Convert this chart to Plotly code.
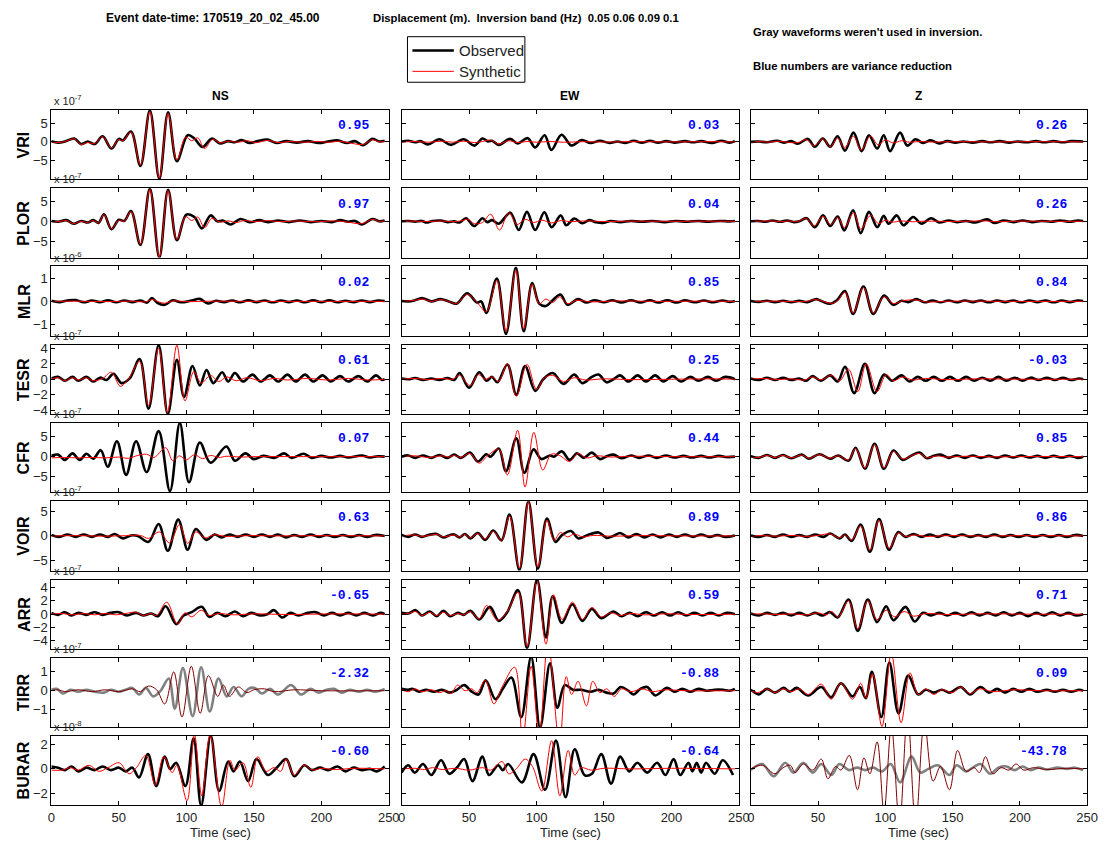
import plotly.graph_objects as go

# ---------------- data (values in units of the panel exponent) ----------------
STATIONS = ["VRI", "PLOR", "MLR", "TESR", "CFR", "VOIR", "ARR", "TIRR", "BURAR"]
COMPONENTS = ["NS", "EW", "Z"]
EXPONENTS = [-7, -7, -6, -7, -7, -7, -7, -7, -8]
Y_RANGES = [(-10.1, 8.6), (-9.2, 8.4), (-1.5, 1.52), (-4.5, 4.45), (-8.8, 8.3),
            (-7.0, 7.0), (-5.2, 5.2), (-1.93, 1.75), (-2.97, 2.68)]
Y_TICKS = [[-5, 0, 5], [-5, 0, 5], [-1, 0, 1], [-4, -2, 0, 2, 4], [-5, 0, 5],
           [-5, 0, 5], [-4, -2, 0, 2, 4], [-1, 0, 1], [-2, 0, 2]]
X_TICKS = [0, 50, 100, 150, 200, 250]
VR_NS = [0.95, 0.97, 0.02, 0.61, 0.07, 0.63, -0.65, -2.32, -0.60]
VR_EW = [0.03, 0.04, 0.85, 0.25, 0.44, 0.89, 0.59, -0.88, -0.64]
VR_Z = [0.26, 0.26, 0.84, -0.03, 0.85, 0.86, 0.71, 0.09, -43.78]
UNUSED = [("TIRR", "NS"), ("BURAR", "Z")]
LEGEND_LABELS = ["Observed", "Synthetic"]

VRI_NS_OBS = [(0,0.2),(5,-0.2),(10,0.1),(17,0.9),(22,-0.6),(27,0.1),(32,-0.6),(38,1.5),(44.5,-1.8),(50,0.8),(53,0.4),(59,2.8),(66,-6.5),(73,8.5),(80,-10.0),(86.5,8.0),(93,-5.2),(101,1.8),(106,0.9),(112,-1.4),(119,0.9),(125,-0.4),(131,0.2),(136,-0.1),(141,0.5),(147,-0.3),(153,0.2),(160,0.6),(167,-0.3),(174,0.2),(182,-0.2),(190,0.2),(198,-0.3),(205,0.1),(212,0.4),(219,-0.3),(225,0.2),(231,-0.9),(238,0.8),(243,0.1),(247,0.3)]
VRI_NS_SYN = [(0,0.1),(5,-0.2),(10,0.1),(17,0.8),(22,-0.7),(27,-0.2),(32,-0.5),(38,1.4),(44.5,-1.6),(50,0.6),(53,0.3),(59,2.6),(66,-6.2),(73,8.2),(80,-9.7),(86.5,7.7),(93,-4.9),(99.5,1.3),(104,0.3),(108.5,1.1),(113.5,-1.8),(119.5,0.7),(125,-0.3),(131,0.2),(138,-0.1),(145,0.3),(152,-0.2),(160,0.4),(168,-0.2),(177,0.1),(187,-0.1),(197,0.1),(207,-0.1),(213,0.2),(220,-0.2),(231,-0.7),(238,0.6),(243,0.0),(247,0.1)]
VRI_EW_OBS = [(0,0.1),(5,0.3),(10,-0.1),(14,0.2),(19.5,-0.7),(28,0.7),(36.5,-0.8),(46,0.7),(54,-1.0),(60,0.9),(64,0.1),(67,0.3),(72,-0.8),(80.5,0.8),(86,-0.4),(93.5,1.0),(99,-1.5),(106,1.8),(111,-2.2),(118.5,1.9),(126,-1.0),(133.5,0.5),(140,-0.3),(147,0.3),(154,-0.3),(160,0.1),(166,-0.3),(172,0.3),(178,-0.2),(184,0.3),(190,-0.2),(196,0.2),(202,-0.2),(210,0.2),(216,-0.1),(222,0.2),(230,-0.3),(237,0.3),(243,-0.2),(247,0.2)]
VRI_EW_SYN = [(0,0.0),(10,0.1),(20,-0.1),(30,0.2),(38,-0.1),(46,0.2),(54,-0.2),(60,0.1),(66,0.5),(72,-0.6),(79,0.3),(86,-0.2),(93,0.1),(100,-0.1),(110,0.1),(120,-0.1),(135,0.05),(150,-0.05),(170,0.05),(200,0.0),(230,0.05),(247,0.0)]
VRI_Z_OBS = [(0,0.0),(6,0.1),(12,-0.1),(19.5,0.3),(25,-0.2),(30,0.2),(35,-0.5),(42.5,0.8),(47.5,-1.3),(53.5,0.9),(59,-1.3),(64.5,1.5),(70,-2.4),(76.3,2.5),(82.4,-2.5),(87.8,1.8),(94,-1.8),(98.8,1.8),(103.5,-2.5),(110.9,2.5),(116.3,-1.0),(122.4,0.7),(128,-0.3),(133.7,0.4),(140,-0.4),(146,0.2),(152,-0.2),(158,0.1),(165,-0.2),(172,0.2),(178,-0.1),(185,0.2),(192,-0.2),(198,0.1),(205,-0.1),(212,0.2),(218,-0.1),(225,0.2),(232,-0.1),(238,0.2),(247,0.1)]
VRI_Z_SYN = [(0,0.0),(8,0.05),(15,-0.05),(20,0.2),(27,-0.1),(35,-0.2),(41.5,0.6),(47,-1.1),(53.7,0.8),(59,-1.3),(64.6,1.0),(69.5,-1.6),(76.3,1.5),(82,-2.2),(89,1.6),(94.6,-0.8),(100,0.5),(106,-0.3),(112,0.3),(118,-0.1),(125,0.1),(135,-0.05),(150,0.05),(180,0.0),(210,0.05),(247,0.0)]

PLOR_NS_OBS = [(0,0.1),(5,-0.1),(11,0.3),(16.5,-0.6),(22,0.1),(27,-0.3),(31,0.3),(35,-0.4),(39,1.8),(44.5,-2.0),(50,0.4),(54,0.1),(59,2.6),(66,-6.0),(73,8.3),(80,-9.2),(86.5,8.0),(93,-4.8),(100,1.7),(106,1.1),(111.5,-1.8),(118,1.5),(123,0.0),(127,0.2),(133,-0.8),(140,0.6),(147,-0.2),(154,0.3),(161,-0.2),(168,0.2),(176,-0.2),(184,0.2),(192,-0.2),(200,0.1),(208,-0.2),(214,0.3),(220,-0.1),(225,0.1),(230,-0.8),(238,0.6),(243,0.0),(247,0.2)]
PLOR_NS_SYN = [(0,0.0),(5,-0.1),(11,0.2),(16.5,-0.6),(22,0.0),(27,-0.3),(31,0.2),(35,-0.4),(39,1.7),(44.5,-1.9),(50,0.3),(54,0.0),(59,2.5),(66,-5.8),(73,8.1),(80,-9.0),(86.5,7.8),(93,-4.6),(99.5,1.2),(104,0.2),(108.5,1.1),(113.5,-1.6),(119,0.8),(125,-0.2),(131,0.1),(137,-0.3),(143,0.2),(150,-0.1),(160,0.2),(170,-0.1),(180,0.1),(195,-0.1),(210,0.1),(218,-0.1),(230,-0.6),(238,0.5),(243,0.0),(247,0.1)]
PLOR_EW_OBS = [(0,0.0),(5,0.1),(10,-0.1),(15,0.1),(18.5,-0.3),(23,0.1),(29,0.2),(34,-0.2),(39,0.0),(43,-0.3),(47.7,0.8),(53.8,-1.2),(60,0.8),(63.5,-0.2),(67,0.3),(72,-0.6),(80.6,2.2),(86.8,-2.2),(92.9,2.4),(99,-2.2),(105.8,2.3),(111.2,-1.5),(118,1.5),(122,-1.0),(128,0.7),(134,-0.5),(139,0.3),(144,-0.2),(149,-0.4),(155,0.1),(162,-0.2),(170,0.1),(178,-0.1),(186,0.1),(195,-0.2),(203,0.1),(212,-0.1),(220,0.1),(228,-0.1),(236,0.1),(243,0.0),(247,0.1)]
PLOR_EW_SYN = [(0,0.0),(10,0.05),(20,-0.05),(30,0.1),(38,-0.1),(44,0.1),(49,0.5),(54,-0.6),(60,-0.3),(66,1.8),(72.6,-2.2),(79.4,2.2),(85.5,-0.8),(91.6,0.5),(97.8,-0.3),(104,0.3),(111,-0.4),(118.5,0.2),(125,-0.1),(135,0.1),(150,-0.05),(170,0.05),(200,0.0),(230,0.05),(247,0.0)]
PLOR_Z_OBS = [(0,0.0),(5,0.1),(10,-0.1),(16,0.2),(22,-0.1),(27,0.2),(32,-0.2),(36,0.0),(41.5,0.8),(47.6,-1.5),(53.7,1.5),(59,-1.2),(64.6,1.2),(69.5,-2.3),(76,2.8),(81.7,-3.0),(87.8,2.4),(94,-1.5),(98.8,1.4),(102.4,-0.6),(108.5,1.5),(113.4,-1.0),(120.7,1.1),(126.8,-0.6),(134,0.8),(140,-0.3),(147,0.2),(153,-0.2),(160,0.1),(167,-0.3),(175.6,0.5),(181,-0.4),(188,0.2),(195,-0.2),(202,0.2),(209,-0.2),(216,0.1),(223,-0.1),(230,0.2),(237,-0.1),(243,0.2),(247,0.1)]
PLOR_Z_SYN = [(0,0.0),(8,0.05),(16,0.1),(22,-0.1),(28,0.1),(34,-0.1),(41.5,0.7),(47,-1.2),(53.7,1.3),(59.5,-0.8),(64.6,1.0),(69.5,-1.6),(76.5,2.2),(81.7,-2.0),(89,1.5),(95,-0.6),(100,0.3),(105,-0.2),(112,0.1),(120,-0.1),(130,0.05),(150,-0.05),(175,0.1),(181,-0.1),(200,0.05),(225,0.0),(247,0.0)]

MLR_NS_OBS = [(0,0.03),(6,-0.03),(12,0.04),(18,0.06),(24,-0.04),(30,0.04),(36,-0.03),(42,0.05),(48,-0.04),(54,0.04),(60,-0.03),(66,0.04),(71,-0.05),(74.5,0.15),(78.5,-0.06),(84,-0.15),(90,0.05),(96,-0.04),(104,0.04),(110,0.11),(116,-0.09),(122,0.03),(128,-0.03),(134,0.04),(140,-0.04),(146,0.05),(152,-0.03),(158,0.04),(164,-0.04),(170,0.04),(176,-0.03),(182,0.04),(188,-0.04),(194,0.05),(200,-0.03),(206,0.05),(212,-0.04),(218,0.03),(224,-0.03),(230,0.04),(236,-0.03),(242,0.04),(247,0.02)]
MLR_NS_SYN = [(0,0.0),(20,0.01),(40,-0.01),(60,0.01),(70,-0.02),(75,0.08),(80,-0.03),(84,-0.08),(90,0.02),(100,-0.01),(120,0.01),(150,0.0),(200,0.0),(247,0.0)]
MLR_EW_OBS = [(0,0.02),(5,0.0),(10,0.05),(15.7,0.14),(22,0.0),(28.8,0.1),(35,0.0),(40.8,-0.1),(48.6,0.35),(56,-0.05),(59,0.0),(62.8,-0.5),(70.6,1.0),(77.4,-1.42),(84.7,1.47),(90.5,-1.3),(96.8,0.8),(102,-0.1),(107,-0.2),(112,0.05),(117.7,0.3),(123,-0.15),(130.8,0.1),(137,-0.05),(143,0.05),(150,-0.04),(156,0.05),(163,-0.05),(170,0.05),(177,-0.05),(184,0.05),(190,-0.05),(197,0.05),(204,-0.05),(210,0.05),(217,-0.04),(224,0.04),(231,-0.04),(238,0.04),(243,-0.02),(247,0.02)]
MLR_EW_SYN = [(0,0.0),(10,0.05),(15.7,0.1),(22,0.0),(28.8,0.08),(35,0.0),(40.8,-0.1),(48.6,0.3),(56,-0.05),(62.8,-0.45),(70.6,0.9),(77.4,-1.3),(84.7,1.35),(90.5,-1.2),(96.8,0.75),(102,-0.1),(107,0.1),(112,-0.05),(117,0.2),(123,-0.1),(130,0.05),(140,-0.02),(160,0.02),(190,0.0),(220,0.01),(247,0.0)]
MLR_Z_OBS = [(0,0.02),(6,-0.02),(12,0.03),(18,-0.03),(24,0.03),(30,-0.03),(36,0.03),(42,-0.03),(48.7,0.1),(53,0.0),(59,-0.1),(64,0.05),(70,0.45),(76,-0.55),(83.7,0.65),(91,-0.55),(99,0.25),(106,-0.15),(112,0.03),(117,-0.03),(123,0.1),(129,-0.04),(135,0.04),(141,-0.04),(147,0.04),(153,-0.04),(159,0.04),(165,-0.03),(171,0.04),(177,-0.04),(183,0.04),(189,-0.03),(195,0.04),(201,-0.04),(207,0.04),(213,-0.03),(219,0.04),(225,-0.04),(231,0.04),(237,-0.03),(243,0.04),(247,0.02)]
MLR_Z_SYN = [(0,0.0),(20,0.01),(40,-0.01),(48.7,0.08),(59,-0.08),(64,0.0),(70,0.4),(76,-0.5),(83.7,0.6),(91,-0.5),(99,0.2),(106,-0.1),(113,0.03),(123,0.06),(130,-0.02),(150,0.01),(200,0.0),(247,0.0)]

TESR_NS_OBS = [(0,0.1),(5,0.3),(10,-0.2),(15.7,0.3),(20,-0.2),(26,0.3),(31,-0.3),(36,0.2),(41,-0.1),(46,0.7),(52,-0.5),(58,0.1),(65.4,2.6),(72,-3.8),(79.5,4.4),(86.3,-4.5),(93,2.5),(98.3,-2.3),(104.6,1.7),(110,-0.8),(115,1.2),(120,-0.5),(126.6,0.9),(131,-0.3),(136,0.8),(142,-0.3),(149,0.6),(155,-0.3),(162,0.5),(168,-0.3),(175,0.6),(181,-0.3),(188,0.6),(194,-0.3),(201,0.5),(207,-0.3),(214,0.4),(220,-0.3),(227.5,0.4),(234,-0.3),(240.6,0.5),(245,-0.1),(247,0.0)]
TESR_NS_SYN = [(0,0.0),(5,0.2),(10,-0.2),(15.7,0.2),(20,-0.1),(26,0.2),(31,-0.2),(38,0.1),(44.5,0.9),(51,-0.9),(57,0.0),(65.4,2.3),(72,-3.4),(79.5,4.0),(86,-4.3),(93,4.4),(99,-2.8),(105.6,1.0),(111,-0.5),(118,0.5),(124,-0.3),(130,0.3),(137,-0.2),(145,0.2),(155,-0.2),(165,0.1),(175,-0.1),(190,0.1),(205,-0.1),(220,0.1),(235,-0.1),(247,0.0)]
TESR_EW_OBS = [(0,0.1),(5,0.0),(10,0.15),(16,-0.1),(22,0.1),(28,-0.1),(34,0.15),(39,-0.1),(43,0.8),(50,-1.1),(57.5,0.9),(63,-0.2),(67,0.3),(71,-0.4),(78.4,1.9),(85,-2.0),(91.5,1.7),(99,-1.5),(105,0.0),(112,0.8),(120,-0.6),(128,0.6),(134,-0.5),(141,0.3),(146,0.6),(152,-0.4),(157,0.0),(162,0.5),(168,-0.3),(175,0.5),(181,-0.3),(188,0.5),(194,-0.3),(201,0.4),(207,-0.3),(214,0.3),(220,-0.2),(227,0.3),(233,-0.2),(240,0.3),(247,0.0)]
TESR_EW_SYN = [(0,0.0),(10,0.1),(20,-0.05),(30,0.1),(38,0.0),(43,0.5),(50.7,-0.8),(57,0.6),(62,0.0),(67,0.3),(72,-0.3),(78.4,2.0),(85,-2.2),(93,1.9),(100,-1.3),(106,0.2),(112,0.5),(120,-0.3),(128,0.2),(136,-0.1),(150,0.05),(170,-0.05),(200,0.0),(230,0.05),(247,0.0)]
TESR_Z_OBS = [(0,0.1),(6,-0.1),(12,0.2),(18,-0.1),(24,0.2),(30,-0.1),(36,0.1),(41,-0.2),(46,0.4),(52,-0.2),(59,0.5),(64.6,-0.3),(70,1.6),(76.8,-1.8),(84.8,2.0),(92,-1.8),(99,0.6),(105,-0.2),(112,0.5),(118,-0.3),(124,0.3),(130,-0.2),(136,0.3),(142,-0.2),(148,0.3),(154,-0.2),(160,0.3),(166,-0.2),(172,0.2),(178,-0.2),(184,0.3),(190,-0.2),(196,0.2),(202,-0.2),(208,0.2),(214,-0.1),(220,0.2),(226,-0.1),(232,0.2),(238,-0.1),(244,0.1),(247,0.0)]
TESR_Z_SYN = [(0,0.0),(10,0.1),(20,-0.05),(30,0.05),(40,-0.1),(46,0.3),(52,-0.1),(60,0.5),(66,-0.2),(72.6,1.3),(79.5,-1.6),(85.8,2.0),(93.8,-1.6),(100.6,0.6),(106,-0.2),(113,0.3),(120,-0.1),(130,0.1),(145,-0.05),(170,0.05),(200,0.0),(247,0.0)]

CFR_NS_OBS = [(0,0.2),(5,0.5),(10,-0.8),(15.7,0.8),(21,-0.8),(26,0.7),(31,-0.5),(36.6,1.6),(41.8,-2.5),(48.6,3.8),(55.4,-4.5),(62.8,3.8),(70.6,-3.8),(79.5,6.3),(87.9,-8.5),(95.2,8.3),(102,-6.3),(110,3.5),(118,-1.5),(129.7,2.5),(136,-1.0),(143.8,0.8),(150,-0.6),(157,0.2),(165,-0.3),(172.6,0.8),(178,-0.3),(187,0.7),(193,-0.3),(200,0.2),(207,-0.2),(214,0.2),(220,-0.2),(230,0.3),(236,-0.2),(242,0.1),(247,0.0)]
CFR_NS_SYN = [(0,-0.3),(10,-0.2),(20,-0.3),(30,-0.2),(40,-0.3),(50,-0.1),(57,-0.4),(64,0.3),(70.6,0.6),(76,-0.2),(84.7,2.2),(90,-1.0),(95,0.2),(100,-0.8),(106,0.5),(112,-0.5),(118,0.3),(124,-0.2),(130,0.1),(140,-0.1),(150,0.0),(200,0.0),(247,0.0)]
CFR_EW_OBS = [(0,0.0),(5,0.3),(10,-0.3),(16,0.3),(22,-0.3),(28,0.4),(34,-0.3),(39,0.5),(44,-0.3),(50.7,1.0),(56.5,-1.2),(62.8,0.6),(66,0.0),(72,2.0),(77.4,-3.6),(85,4.5),(91,-4.0),(97.8,1.8),(103.6,-0.6),(110,0.3),(113,0.0),(118.7,1.3),(124.5,-0.8),(130,0.8),(135,-0.3),(141,1.0),(147,-0.6),(152,0.1),(157,0.5),(163,-0.4),(170,0.3),(176,-0.3),(183,0.3),(189,-0.3),(196,0.3),(202,-0.2),(209,0.2),(215,-0.2),(222,0.2),(228,-0.2),(235,0.2),(241,-0.1),(247,0.0)]
CFR_EW_SYN = [(0,0.0),(10,0.2),(20,-0.2),(30,0.2),(35,-0.1),(39,0.3),(44,-0.2),(50.7,0.8),(57.5,-1.6),(64,0.3),(72,1.8),(78.4,-4.5),(86,6.5),(91.5,-7.5),(98,6.0),(104.6,-3.3),(111,0.6),(117,0.3),(124.5,-1.2),(130.8,0.8),(137,-0.3),(145,0.2),(155,-0.1),(170,0.1),(200,0.0),(247,0.0)]
CFR_Z_OBS = [(0,0.1),(6,-0.3),(12,0.4),(18,-0.3),(24,0.4),(30,-0.4),(38,0.5),(43,-0.5),(51,0.6),(59,-0.5),(65,0.3),(72.6,-1.0),(77.9,2.2),(84.8,-3.0),(92,3.2),(99,-3.0),(106,1.5),(113,-0.8),(119,0.2),(125.5,1.0),(131,-0.4),(136,0.2),(141,0.5),(147,-0.3),(153,0.3),(159,-0.3),(165,0.3),(171,-0.3),(177,0.2),(183,-0.3),(189,0.3),(195,-0.2),(201,0.3),(207,-0.2),(213,0.2),(219,-0.3),(225,0.2),(231,-0.2),(237,0.2),(243,-0.3),(247,0.0)]
CFR_Z_SYN = [(0,0.0),(6,-0.2),(12,0.3),(18,-0.2),(24,0.3),(30,-0.3),(38,0.4),(43,-0.4),(51,0.5),(59,-0.4),(65,0.2),(72.6,-0.8),(77.9,2.0),(84.8,-2.8),(92,3.0),(99,-2.8),(106,1.3),(113,-0.6),(120,0.3),(125.5,0.8),(131,-0.3),(138,0.2),(145,-0.1),(160,0.1),(180,-0.05),(210,0.05),(247,0.0)]

VOIR_NS_OBS = [(0,0.2),(6,-0.2),(12,0.3),(18,-0.2),(24,0.3),(30,-0.2),(36,0.3),(42,-0.2),(47,0.4),(53,-0.5),(59,0.1),(64,0.0),(72,-1.2),(79.5,2.4),(86.3,-3.0),(94,3.3),(101,-2.8),(107,1.4),(115,-0.8),(121,0.3),(126,-0.3),(132,0.3),(138,-0.2),(144,0.3),(150,-0.2),(156,0.3),(162,-0.2),(168,0.3),(174,-0.3),(180,0.2),(186,-0.2),(192,0.3),(198,-0.2),(204,0.2),(210,-0.2),(216,0.2),(222,-0.2),(228,0.2),(234,-0.2),(240,0.2),(247,0.0)]
VOIR_NS_SYN = [(0,0.0),(20,0.05),(40,-0.05),(55,0.05),(66,0.1),(72,-0.5),(80,0.8),(87.5,-1.4),(95,2.3),(101,-1.5),(107,0.8),(114,-0.4),(120,0.2),(130,-0.1),(145,0.05),(170,0.0),(200,0.05),(247,0.0)]
VOIR_EW_OBS = [(0,0.2),(5,-0.2),(10,0.3),(15,-0.2),(20,0.2),(26,0.4),(31,-0.3),(36,0.2),(39,0.3),(43,-0.3),(47,0.4),(51,-0.5),(56.5,0.6),(62,-0.8),(68,1.1),(74,-0.9),(80,4.3),(87.3,-6.9),(94,7.0),(101,-6.6),(107.7,3.5),(114,-1.2),(119,0.2),(125.5,1.0),(131,-0.5),(138,0.2),(146,0.7),(152,-0.4),(157,0.0),(162,0.6),(168,-0.3),(174,0.4),(180,-0.3),(186,0.3),(192,-0.3),(198,0.3),(204,-0.2),(210,0.3),(216,-0.2),(222,0.3),(228,-0.2),(234,0.2),(240,-0.2),(247,0.1)]
VOIR_EW_SYN = [(0,0.0),(10,0.2),(15,-0.1),(20,0.1),(26,0.3),(31,-0.2),(39,0.2),(43,-0.2),(47,0.3),(51,-0.4),(56.5,0.5),(62,-0.6),(68,0.9),(74,-0.9),(80,4.0),(87.3,-6.5),(94,6.8),(101,-6.3),(107.7,3.2),(113,-0.9),(117.7,0.7),(123,-0.2),(128,0.4),(134,-0.2),(142,0.1),(155,-0.05),(175,0.05),(210,0.0),(247,0.0)]
VOIR_Z_OBS = [(0,0.1),(6,-0.2),(12,0.2),(18,-0.2),(24,0.3),(30,-0.2),(36,0.2),(42,-0.2),(48,0.3),(54,-0.2),(59,0.5),(66,-0.5),(70,0.3),(75,-1.0),(81.6,2.3),(88.5,-3.2),(95.3,3.4),(102.8,-2.8),(109.6,0.8),(115,-0.2),(121,0.4),(127,-0.2),(133,0.3),(139,-0.2),(145,0.3),(151,-0.2),(157,0.3),(163,-0.2),(169,0.2),(175,-0.2),(181,0.3),(187,-0.2),(193,0.2),(199,-0.2),(205,0.2),(211,-0.2),(217,0.2),(223,-0.2),(229,0.2),(235,-0.2),(241,0.2),(247,0.0)]
VOIR_Z_SYN = [(0,0.0),(10,0.05),(20,-0.05),(30,0.1),(42,-0.1),(50,0.1),(59,0.4),(66,-0.4),(70,0.2),(75,-0.8),(81.6,2.0),(88.5,-2.9),(95.3,3.2),(102.8,-2.5),(109.6,0.6),(115,-0.1),(122,0.2),(130,-0.1),(145,0.05),(170,0.0),(210,0.05),(247,0.0)]

ARR_NS_OBS = [(0,0.2),(5,-0.1),(10,0.3),(15,-0.2),(20,0.2),(26,-0.1),(32,0.3),(38,-0.1),(44,0.2),(50,0.3),(56,-0.2),(62.8,0.2),(68,-0.2),(74,0.1),(79,-0.3),(84.7,1.2),(92.6,-1.5),(98,-0.2),(104,0.3),(111.4,1.1),(117,-0.4),(123,0.2),(129,-0.3),(136,0.4),(142,-0.3),(148,0.2),(155,-0.2),(160,0.0),(165,0.6),(171,-0.5),(177,0.2),(183,-0.2),(190,0.2),(196,0.3),(202,-0.2),(208,0.2),(214,-0.2),(220,0.2),(226,-0.2),(232,0.2),(238,-0.2),(244,0.2),(247,0.0)]
ARR_NS_SYN = [(0,0.0),(8,0.1),(16,-0.1),(24,0.1),(32,-0.1),(40,0.1),(48,-0.1),(55,0.1),(62.8,0.3),(68,-0.2),(74,0.1),(78,-0.2),(85.5,1.8),(93.5,-1.5),(99,0.2),(104,-0.4),(111,0.6),(117,-0.2),(124,0.1),(135,-0.1),(150,0.05),(175,-0.05),(210,0.05),(247,0.0)]
ARR_EW_OBS = [(0,0.2),(5,0.1),(10.5,0.6),(15,-0.2),(20.9,0.4),(26,-0.3),(31,0.5),(36,-0.3),(41.8,0.2),(46,-0.1),(51,0.5),(57.5,-0.8),(65.4,1.1),(72,-1.0),(78,0.2),(86.3,3.6),(93,-5.1),(100.4,5.2),(107,-3.5),(112,2.7),(118.7,-1.3),(126.6,1.5),(134,-1.0),(141,0.8),(148,-0.6),(157,0.4),(163,-0.3),(169,0.2),(175,-0.3),(181,0.3),(187,-0.2),(193,0.3),(199,-0.2),(205,0.3),(211,-0.2),(217,0.2),(223,-0.2),(229,0.2),(235,-0.2),(241,0.2),(247,0.0)]
ARR_EW_SYN = [(0,0.0),(5,0.1),(10.5,0.4),(15,-0.2),(21,0.3),(26,-0.2),(31,0.3),(36,-0.2),(42,0.1),(46,-0.1),(51,0.4),(57.5,-0.7),(63,1.3),(71,-0.9),(78,0.3),(86.3,3.3),(93,-4.8),(100.4,5.0),(107,-4.5),(112.5,2.9),(119,-0.8),(126.6,1.8),(134,-0.8),(141,1.0),(148,-0.4),(155,0.2),(162,-0.2),(170,0.1),(180,-0.1),(195,0.05),(215,-0.05),(247,0.0)]
ARR_Z_OBS = [(0,0.1),(6,-0.2),(12,0.2),(18,-0.1),(24,0.2),(30,-0.2),(36,0.2),(42,-0.2),(48,0.2),(53,-0.2),(59,0.3),(64.5,-0.5),(72.6,2.2),(79.5,-2.5),(86.9,2.2),(93.8,-1.2),(100.6,1.2),(106,-0.9),(115,1.1),(121.8,-1.1),(128,0.2),(134,-0.2),(140,0.2),(146,-0.2),(152,0.2),(158,-0.2),(164,0.3),(170,-0.2),(176,0.2),(182,-0.2),(188,0.3),(194,-0.2),(200,0.2),(206,-0.3),(212,0.2),(218,-0.2),(224,0.3),(230,-0.2),(236,0.2),(242,-0.2),(247,0.0)]
ARR_Z_SYN = [(0,0.0),(10,0.05),(20,-0.05),(30,0.05),(42,-0.1),(50,0.2),(56,-0.1),(60,0.4),(65,-0.4),(72.6,2.0),(79.5,-2.2),(86.9,2.0),(93.8,-0.8),(100.6,0.6),(107,-0.4),(114,0.4),(121,-0.3),(130,0.1),(145,-0.05),(170,0.05),(210,0.0),(247,0.0)]

TIRR_NS_OBS = [(0,0.05),(4,0.1),(8.6,-0.15),(14,0.05),(20,-0.05),(26,0.05),(32,-0.05),(39,-0.1),(44,0.05),(50,-0.05),(55,0.05),(60,0.15),(65,-0.2),(70,0.15),(75.5,-0.3),(81,0.0),(87,0.65),(91.5,-0.95),(97.5,1.2),(104.7,-1.35),(111,1.25),(117.4,-1.1),(123.8,0.65),(130,-0.3),(135,0.2),(141,-0.3),(146,0.1),(150.7,0.15),(156,-0.15),(162,0.1),(168,-0.2),(177.7,0.3),(185,-0.2),(192,0.1),(198,-0.1),(204,0.05),(209.6,0.1),(215,-0.1),(221,0.05),(228,-0.05),(234,0.05),(240,-0.05),(247,0.1)]
TIRR_NS_SYN = [(0,0.0),(5,0.05),(10,-0.05),(20,0.05),(30,-0.05),(40,0.05),(50,-0.05),(60,0.1),(66,-0.05),(72,0.25),(78,0.05),(84,-0.7),(90.7,1.0),(96.8,-1.4),(103.7,1.3),(110.3,-1.2),(116.4,0.8),(123.3,-0.3),(127.5,0.3),(132,-0.3),(138.5,0.2),(145,-0.1),(150,0.05),(158,0.1),(165,-0.05),(180,0.05),(200,0.0),(247,0.0)]
TIRR_EW_OBS = [(0,0.1),(5,0.05),(8,0.1),(13,-0.05),(18,0.05),(24,-0.05),(30,0.05),(36,-0.1),(41,0.05),(46.4,0.3),(52,-0.05),(57,-0.2),(62.3,0.55),(69.6,-0.45),(75,0.1),(81.4,0.7),(88.7,-1.4),(96,1.8),(102.6,-1.95),(110,1.45),(115.4,-0.9),(121,0.3),(127,0.05),(133,0.05),(140,-0.05),(146,0.05),(152,-0.1),(157,-0.15),(162.5,0.2),(168,0.0),(172,-0.2),(177,0.1),(182,0.2),(188,-0.25),(196.7,0.15),(202,-0.05),(208,0.1),(214,-0.05),(220,0.1),(226,0.0),(232,0.05),(238,0.05),(243,0.0),(247,0.1)]
TIRR_EW_SYN = [(0,0.05),(5,-0.05),(10,0.1),(15,-0.05),(22,0.05),(28,-0.1),(33,0.0),(36.7,-0.15),(41.5,0.3),(47,0.0),(52,0.1),(56,-0.1),(62,0.55),(68.4,-0.7),(74.5,0.2),(83.8,1.25),(89.7,-2.6),(96,1.3),(102,-2.4),(108.5,2.6),(117,-2.8),(122,0.75),(126,-0.2),(130.8,0.5),(137,-0.8),(141.7,0.5),(147,-0.1),(152,0.1),(157.6,-0.3),(163,0.1),(170,-0.05),(178,0.1),(186,-0.05),(195,0.05),(210,0.0),(247,0.0)]
TIRR_Z_OBS = [(0,0.05),(3,-0.1),(6,-0.2),(12,0.1),(18,-0.1),(24.4,0.15),(29,-0.05),(34,0.15),(42.7,-0.25),(52.4,0.2),(59.7,-0.35),(67,0.4),(75.6,-0.3),(81,0.2),(85.5,-0.4),(90,1.0),(97,-1.4),(103,1.5),(109.8,-1.2),(117,0.8),(124.4,-0.2),(130,0.05),(136,-0.1),(142,0.05),(148,-0.1),(156,0.2),(163,-0.2),(170.7,0.2),(177,-0.1),(183,0.1),(189,-0.1),(195,0.1),(201,-0.05),(207,0.1),(213,-0.05),(220,0.05),(226,-0.05),(232,0.05),(238,-0.05),(244,0.05),(247,0.0)]
TIRR_Z_SYN = [(0,0.0),(5,-0.1),(12,0.1),(18,-0.1),(24,0.1),(30,-0.05),(36,0.1),(42.7,-0.2),(52.4,0.35),(59.7,-0.45),(67,0.4),(75.6,-0.45),(81.7,0.4),(85.5,-0.4),(90.5,0.9),(97.5,-1.9),(104.4,2.0),(111.7,-1.7),(118.3,0.95),(124.4,-0.2),(130,0.1),(136,-0.2),(142,0.05),(150,-0.1),(156,0.2),(163,-0.15),(170,0.1),(180,-0.05),(195,0.05),(215,0.0),(247,0.0)]

BURAR_NS_OBS = [(0,0.2),(5,0.1),(10,-0.1),(15,0.2),(20,-0.2),(26,0.1),(32,-0.1),(38,0.2),(44,-0.1),(50,0.1),(55,-0.2),(60,0.1),(65,-0.7),(71.6,1.2),(77.7,-1.4),(84,1.0),(88,0.0),(92.5,0.5),(99.3,-1.4),(105.4,2.5),(111,-3.0),(118.1,2.7),(124.3,-1.8),(131,0.6),(135,-0.2),(139.7,0.6),(145.8,-1.0),(152,0.8),(160.5,-0.5),(167,0.1),(174,0.8),(180,-0.6),(187.5,0.3),(193,-0.1),(199,0.1),(205,-0.1),(212,0.2),(218,-0.2),(224,0.1),(230,-0.1),(236,0.0),(241,-0.2),(247,0.2)]
BURAR_NS_SYN = [(0,-0.1),(8,-0.1),(14,0.1),(20,-0.1),(28,0.3),(35,-0.2),(42,0.1),(50.2,0.5),(57.6,-0.4),(63,0.1),(70,1.1),(77,-1.3),(83.3,1.0),(89.5,-0.3),(93,0.3),(100.5,-2.6),(106,2.8),(111.5,-2.2),(117.6,2.8),(126.2,-3.1),(132.3,0.7),(136,-0.1),(142,0.5),(147.8,-1.5),(153,1.0),(159,-0.2),(165,0.1),(170,-0.2),(174,0.8),(180,-0.5),(187,0.3),(194,-0.1),(200,0.05),(210,-0.05),(225,0.05),(247,0.0)]
BURAR_EW_OBS = [(0,-0.3),(4.9,0.3),(9.8,-0.3),(15.9,0.4),(22,-0.5),(29.3,0.7),(35.4,-0.4),(41,0.1),(46.4,0.8),(52.5,-1.0),(59.9,1.0),(64.8,-0.5),(71.6,0.3),(75,-0.1),(79,0.4),(89.2,-1.1),(97.8,1.2),(106.3,-1.7),(114.4,2.3),(121.5,-2.3),(128.3,1.6),(135.6,-0.5),(141,-0.4),(148,1.2),(155.2,-1.2),(162,1.0),(168.6,-0.2),(174.7,0.5),(182,-0.3),(189.4,0.5),(195.5,-0.5),(201.6,0.8),(206.5,-0.5),(212.6,0.5),(215.5,-0.2),(218.7,0.5),(222,-0.3),(225.6,0.5),(232,-0.4),(238,0.7),(245.6,-0.5)]
BURAR_EW_SYN = [(0,0.0),(10,0.05),(17,-0.05),(23,0.1),(30,-0.05),(40,0.05),(50,-0.1),(60,0.1),(66,-0.1),(74.5,0.6),(79.4,-0.4),(85,0.0),(91.6,0.8),(97,0.2),(103.9,-1.8),(111.2,2.3),(117.3,-2.2),(123.4,1.5),(128.3,-0.5),(133,0.1),(140.5,-0.1),(150,0.05),(170,0.0),(200,0.05),(247,0.0)]
BURAR_Z_OBS = [(0,-0.1),(8.5,0.4),(17,-0.6),(25.6,0.5),(31.7,-0.3),(39,0.5),(46,-0.3),(52.4,0.4),(59.8,-0.5),(65.9,0.4),(73,-0.1),(79,0.1),(85,-0.1),(91,0.1),(97.6,-0.2),(104,0.4),(111,-1.1),(119.5,1.0),(126,-0.3),(132,0.0),(139,0.3),(147.6,-0.5),(153,0.3),(160,-0.2),(165,0.1),(170.7,0.4),(178,-0.4),(184,0.1),(190,0.2),(196,-0.1),(202,0.2),(208,-0.1),(214,0.1),(220,-0.05),(228,0.1),(235,0.0),(241,0.1),(247,-0.1)]
BURAR_Z_SYN = [(0,0.0),(8.5,0.3),(18,-0.4),(24,0.1),(29.3,0.3),(33,-0.3),(39,0.4),(46,-0.1),(52.4,0.8),(57.3,-0.8),(63,0.2),(67,-0.1),(73.2,1.1),(79.3,-1.7),(84.1,0.9),(88.5,-0.4),(93.9,2.2),(99,-3.5),(104.5,3.5),(110.5,-4.5),(116.5,4.5),(122.5,-4.5),(129,3.8),(135.5,-1.0),(141,0.2),(147.6,-1.7),(153.7,1.5),(160,-0.2),(166,0.1),(170,-0.3),(174.4,1.0),(180,-0.4),(186,0.1),(192,-0.1),(197,0.4),(203,-0.1),(210,0.1),(220,-0.05),(235,0.05),(247,0.0)]

# ---------------- assembly ----------------
G = globals()
PANELS = {(s, c): (G[f"{s}_{c}_OBS"], G[f"{s}_{c}_SYN"]) for s in STATIONS for c in COMPONENTS}
VR = {"NS": VR_NS, "EW": VR_EW, "Z": VR_Z}

W, H = 1112, 846
COL_X = [(48, 390), (403, 745), (757, 1098)]
ROW_TOP0, ROW_STEP, ROW_H = 107, 79, 70
SANS = "Liberation Sans, Arial, sans-serif"
MONO = "Liberation Mono, Courier New, monospace"
OBS_STYLE = dict(color="black", width=2.6)
SYN_STYLE = dict(color="red", width=1)
UNUSED_OBS_STYLE = dict(color="#808080", width=2.6)
UNUSED_SYN_STYLE = dict(color="#800000", width=1)


def px(x):
    return x / W


def py(y):
    return 1 - y / H


fig = go.Figure()
layout = dict(width=W, height=H, margin=dict(l=0, r=0, t=0, b=0),
              paper_bgcolor="white", plot_bgcolor="white", showlegend=False)
annotations = []
shapes = []

for r, st in enumerate(STATIONS):
    top = ROW_TOP0 + r * ROW_STEP
    for c, comp in enumerate(COMPONENTS):
        k = r * 3 + c + 1
        xn = "x" if k == 1 else f"x{k}"
        yn = "y" if k == 1 else f"y{k}"
        xl = "xaxis" if k == 1 else f"xaxis{k}"
        yl = "yaxis" if k == 1 else f"yaxis{k}"
        x0, x1 = COL_X[c]
        layout[xl] = dict(domain=[px(x0), px(x1)], range=[0, 250], anchor=yn,
                          showline=True, linecolor="black", linewidth=1, mirror="ticks",
                          ticks="inside", ticklen=4, tickcolor="black", tickvals=X_TICKS,
                          showticklabels=(r == len(STATIONS) - 1),
                          tickfont=dict(family=SANS, size=13, color="#222"),
                          showgrid=False, zeroline=False, fixedrange=True)
        layout[yl] = dict(domain=[py(top + ROW_H), py(top)], range=list(Y_RANGES[r]), anchor=xn,
                          showline=True, linecolor="black", linewidth=1, mirror="ticks",
                          ticks="inside", ticklen=4, tickcolor="black", tickvals=Y_TICKS[r],
                          showticklabels=(c == 0),
                          tickfont=dict(family=SANS, size=13, color="#222"),
                          showgrid=False, zeroline=False, fixedrange=True)
        obs, syn = PANELS[(st, comp)]
        unused = (st, comp) in UNUSED
        ot, ov = zip(*obs)
        stt, sv = zip(*syn)
        fig.add_trace(go.Scatter(x=ot, y=ov, xaxis=xn, yaxis=yn, mode="lines",
                                 line=dict(**(UNUSED_OBS_STYLE if unused else OBS_STYLE),
                                           shape="spline", smoothing=1.0),
                                 name="Observed", hoverinfo="skip"))
        fig.add_trace(go.Scatter(x=stt, y=sv, xaxis=xn, yaxis=yn, mode="lines",
                                 line=dict(**(UNUSED_SYN_STYLE if unused else SYN_STYLE),
                                           shape="spline", smoothing=1.0),
                                 name="Synthetic", hoverinfo="skip"))
        annotations.append(dict(x=px(x1 - 18), y=py(top + 16), xref="paper", yref="paper",
                                text=f"{VR[comp][r]:.2f}", showarrow=False, xanchor="right",
                                yanchor="middle",
                                font=dict(family=MONO, size=13, color="blue", weight="bold")))
    annotations.append(dict(x=px(20), y=py(top + ROW_H / 2), xref="paper", yref="paper",
                            text=st, textangle=-90, showarrow=False, xanchor="center",
                            yanchor="middle",
                            font=dict(family=SANS, size=16, color="black", weight="bold")))
    annotations.append(dict(x=px(49), y=py(top - 1), xref="paper", yref="paper",
                            text=f"x 10<sup>{EXPONENTS[r]}</sup>", showarrow=False,
                            xanchor="left", yanchor="bottom",
                            font=dict(family=SANS, size=11, color="#222")))

for c, comp in enumerate(COMPONENTS):
    x0, x1 = COL_X[c]
    annotations.append(dict(x=px((x0 + x1) / 2), y=py(93), xref="paper", yref="paper",
                            text=comp, showarrow=False, xanchor="center", yanchor="middle",
                            font=dict(family=SANS, size=12, color="black", weight="bold")))
    annotations.append(dict(x=px((x0 + x1) / 2), y=py(836), xref="paper", yref="paper",
                            text="Time (sec)", showarrow=False, xanchor="center", yanchor="middle",
                            font=dict(family=SANS, size=13, color="#222")))

annotations += [
    dict(x=px(212), y=py(14), xref="paper", yref="paper", text="Event date-time: 170519_20_02_45.00",
         showarrow=False, xanchor="center", yanchor="middle",
         font=dict(family=SANS, size=12, color="black", weight="bold")),
    dict(x=px(372), y=py(14), xref="paper", yref="paper",
         text="Displacement (m).&nbsp;&nbsp;Inversion band (Hz)&nbsp;&nbsp;0.05 0.06 0.09 0.1",
         showarrow=False, xanchor="left", yanchor="middle",
         font=dict(family=SANS, size=11.3, color="black", weight="bold")),
    dict(x=px(757), y=py(28), xref="paper", yref="paper", text="Gray waveforms weren't used in inversion.",
         showarrow=False, xanchor="left", yanchor="middle",
         font=dict(family=SANS, size=11.3, color="black", weight="bold")),
    dict(x=px(757), y=py(63), xref="paper", yref="paper", text="Blue numbers are variance reduction",
         showarrow=False, xanchor="left", yanchor="middle",
         font=dict(family=SANS, size=11.3, color="black", weight="bold")),
]

# legend box drawn by hand for exact placement
LEG = dict(x0=409, x1=528, y0=33, y1=79)
shapes.append(dict(type="rect", xref="paper", yref="paper", x0=px(LEG["x0"]), x1=px(LEG["x1"]),
                   y0=py(LEG["y1"]), y1=py(LEG["y0"]), line=dict(color="black", width=1),
                   fillcolor="white", layer="above"))
for i, (lab, sty) in enumerate(zip(LEGEND_LABELS, [OBS_STYLE, SYN_STYLE])):
    yy = 47 + 21 * i
    shapes.append(dict(type="line", xref="paper", yref="paper", x0=px(414), x1=px(456),
                       y0=py(yy), y1=py(yy), line=sty, layer="above"))
    annotations.append(dict(x=px(459), y=py(yy), xref="paper", yref="paper", text=lab,
                            showarrow=False, xanchor="left", yanchor="middle",
                            font=dict(family=SANS, size=15, color="#222")))

layout["annotations"] = annotations
layout["shapes"] = shapes
fig.update_layout(**layout)
fig.write_html("out.html", config={"displayModeBar": False},
               post_script="document.body.style.margin='0';document.body.style.overflow='hidden';")
